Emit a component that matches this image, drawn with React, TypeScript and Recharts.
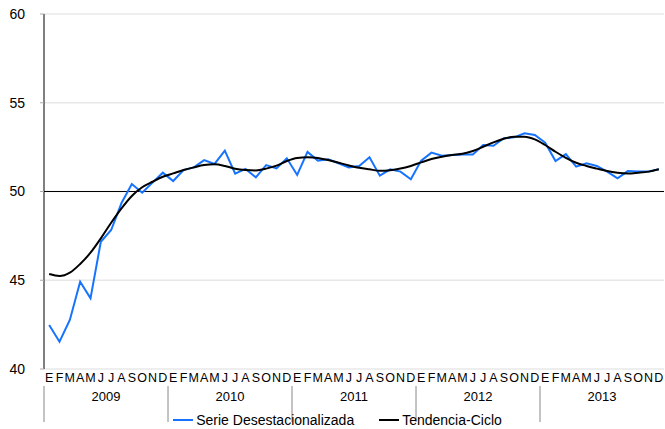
import React from 'react';
import { ComposedChart, Line, XAxis, YAxis, CartesianGrid, ReferenceLine, Legend } from 'recharts';

const months = ['E', 'F', 'M', 'A', 'M', 'J', 'J', 'A', 'S', 'O', 'N', 'D'];
const years = ['2009', '2010', '2011', '2012', '2013'];

const serieDesestacionalizada = [
  42.48, 41.54, 42.76, 44.92, 43.98, 47.17, 47.83, 49.35, 50.42, 49.93, 50.5, 51.06,
  50.59, 51.21, 51.36, 51.77, 51.55, 52.3, 51.0, 51.27, 50.8, 51.49, 51.3, 51.87,
  50.93, 52.23, 51.74, 51.81, 51.59, 51.36, 51.44, 51.93, 50.89, 51.25, 51.12, 50.69,
  51.74, 52.19, 52.02, 52.06, 52.09, 52.09, 52.62, 52.58, 53.0, 53.05, 53.28, 53.18,
  52.75, 51.72, 52.11, 51.4, 51.59, 51.44, 51.12, 50.74, 51.15, 51.12, 51.12, 51.25,
];

const tendenciaCiclo = [
  45.35, 45.24, 45.43, 45.92, 46.55, 47.36, 48.24, 49.05, 49.75, 50.24, 50.55, 50.83,
  51.02, 51.21, 51.36, 51.49, 51.53, 51.44, 51.28, 51.21, 51.19, 51.29, 51.46, 51.72,
  51.89, 51.93, 51.89, 51.77, 51.62, 51.47, 51.34, 51.25, 51.17, 51.2, 51.29, 51.44,
  51.64, 51.83, 51.96, 52.06, 52.13, 52.28, 52.52, 52.77, 52.97, 53.09, 53.09, 52.94,
  52.62, 52.24, 51.9, 51.62, 51.44, 51.29, 51.15, 51.06, 51.02, 51.06, 51.12, 51.25,
];

const yTicks = [40, 45, 50, 55, 60];

const data = serieDesestacionalizada.map((v, i) => ({
  idx: i,
  serie: v,
  tend: tendenciaCiclo[i],
}));
const monthTicks = data.map((d) => d.idx);
const yearTicks = years.map((_, k) => k * 12 + 5.5);
const sepTicks = years.map((_, k) => k * 12 - 0.5);

const FONT = '"Liberation Sans", Arial, sans-serif';

const LegendContent = () => (
  <div
    style={{
      display: 'flex',
      justifyContent: 'center',
      alignItems: 'center',
      height: 16,
      lineHeight: '16px',
      fontSize: 14,
      fontFamily: FONT,
      color: '#000',
      paddingLeft: 11,
    }}
  >
    <span style={{ display: 'inline-block', width: 20, height: 2, background: '#1673ff', marginRight: 3 }} />
    <span style={{ marginRight: 25 }}>Serie Desestacionalizada</span>
    <span style={{ display: 'inline-block', width: 20, height: 2, background: '#000', marginRight: 3 }} />
    <span>Tendencia-Ciclo</span>
  </div>
);

export default function App() {
  return (
    <div style={{ position: 'absolute', left: 0, top: 0, background: '#fff' }}>
      <ComposedChart
        width={665}
        height={429}
        data={data}
        margin={{ top: 14, right: 1, left: 0, bottom: 1 }}
        style={{ fontFamily: FONT }}
      >
        <CartesianGrid vertical={false} stroke="#e8e8e8" strokeWidth={1.5} />
        <XAxis
          xAxisId="sep"
          dataKey="idx"
          type="number"
          domain={[-0.5, 59.5]}
          ticks={sepTicks}
          interval={0}
          height={1}
          tickSize={36}
          tickFormatter={() => ''}
          tickLine={{ stroke: '#888' }}
          axisLine={false}
        />
        <XAxis
          xAxisId="m"
          dataKey="idx"
          type="number"
          domain={[-0.5, 59.5]}
          ticks={monthTicks}
          interval={0}
          height={17}
          tickSize={0}
          tickMargin={4}
          tickFormatter={(v: number) => months[v % 12]}
          tick={{ fill: '#000', fontSize: 12.5 }}
          tickLine={false}
          axisLine={false}
        />
        <XAxis
          xAxisId="y"
          dataKey="idx"
          type="number"
          domain={[-0.5, 59.5]}
          ticks={yearTicks}
          interval={0}
          height={25}
          tickSize={0}
          tickMargin={5}
          tickFormatter={(v: number) => years[Math.floor(v / 12)]}
          tick={{ fill: '#000', fontSize: 13 }}
          tickLine={false}
          axisLine={false}
        />
        <YAxis
          domain={[40, 60]}
          ticks={yTicks}
          width={44}
          tickSize={4}
          tickMargin={15}
          tick={{ fill: '#000', fontSize: 14 }}
          tickLine={{ stroke: '#aaa' }}
          axisLine={{ stroke: '#000' }}
        />
        <ReferenceLine xAxisId="m" y={50} stroke="#000" strokeWidth={1.2} />
        <Legend verticalAlign="bottom" content={<LegendContent />} />
        <Line
          xAxisId="m"
          type="linear"
          dataKey="serie"
          stroke="#1673ff"
          strokeWidth={2}
          dot={false}
          isAnimationActive={false}
        />
        <Line
          xAxisId="m"
          type="monotone"
          dataKey="tend"
          stroke="#000"
          strokeWidth={2}
          dot={false}
          isAnimationActive={false}
        />
      </ComposedChart>
    </div>
  );
}
